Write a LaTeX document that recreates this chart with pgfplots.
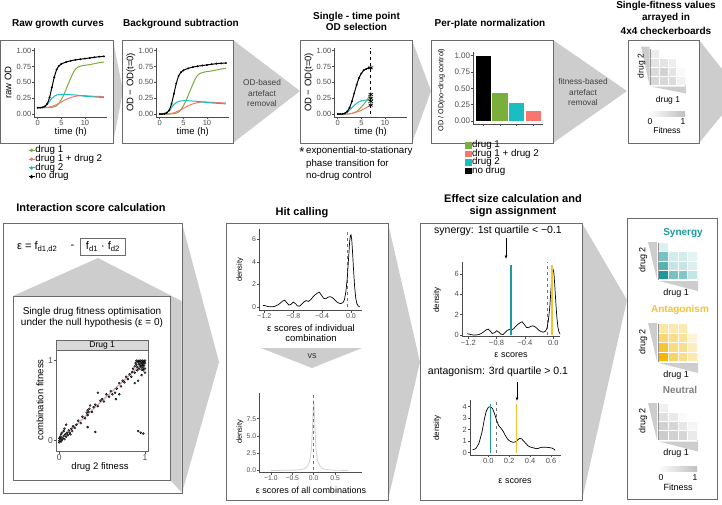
\documentclass[border=0pt]{standalone}
\usepackage{pgfplots}
\pgfplotsset{compat=1.18}
\usepackage{pgfplotstable}
\usepackage{fontspec}
\setmainfont{Liberation Sans}
\usetikzlibrary{arrows.meta}
\definecolor{cgreen}{HTML}{7CAE3C}
\definecolor{cred}{HTML}{F8766D}
\definecolor{ccyan}{HTML}{19BDC2}
\definecolor{cteal}{HTML}{1E9A9A}
\definecolor{cyell}{HTML}{F5C330}
\definecolor{cyelld}{HTML}{F5B700}
\definecolor{tri}{HTML}{CDCDCD}
\definecolor{boxc}{HTML}{6B6B6B}
\definecolor{tickc}{HTML}{4D4D4D}
\definecolor{regc}{HTML}{C7A2AB}
\newcommand{\fs}[1]{\fontsize{#1}{#1}\selectfont}
\newcommand{\lineimg}[1]{\draw[#1, line width=1pt] (0pt,0pt) -- (6pt,0pt); \fill[#1] (3pt,0pt) circle (1.2pt);}
\newcommand{\sqimg}[1]{\fill[#1] (0pt,-3.3pt) rectangle (6.6pt,3.3pt);}
\pgfplotsset{
  gg/.style={scale only axis, anchor=south west, axis x line*=bottom, axis y line*=left,
    tick align=outside, major tick length=2pt,
    every tick/.style={black!70, line width=0.5pt},
    axis line style={black!70, line width=0.5pt},
    tick label style={font=\fs{7.5}, text=tickc, inner sep=1pt}},
  growth/.style={gg, width=72.8pt, height=69.7pt, xmin=-0.7, xmax=14.7, ymin=-0.05, ymax=1.05,
    xtick={0,5,10}, xticklabels={0,5,10}, ytick={0,0.25,0.5,0.75,1},
    yticklabels={0.00,0.25,0.50,0.75,1.00}},
  ckax/.style={scale only axis, anchor=south west, xmin=0.5, xmax=4.5, ymin=0.5, ymax=4.5,
    axis x line*=bottom, axis y line*=left, axis line style={black!65, line width=0.9pt},
    xtick=\empty, ytick=\empty, point meta min=0, point meta max=1},
  ckcells/.style={matrix plot*, mesh/cols=4, mesh/check=false, point meta=explicit, shader=faceted, faceted color=white, line width=0.7pt},
}
% ---------------- data ----------------
\pgfplotstableread{
t od
0 0.10
0.5 0.10
1 0.105
1.5 0.12
2 0.16
2.5 0.26
3 0.42
3.5 0.58
4 0.70
4.5 0.76
5 0.79
6 0.82
7 0.84
8 0.855
9 0.865
10 0.875
11 0.885
12 0.895
13 0.905
14 0.91
}\rawK
\pgfplotstableread{
t od
0 0.10
1 0.10
2 0.10
3 0.105
4 0.13
4.5 0.17
5 0.23
5.5 0.30
6 0.39
6.5 0.48
7 0.57
7.5 0.65
8 0.71
8.5 0.74
9 0.755
10 0.77
11 0.78
12 0.795
13 0.81
14 0.82
}\rawG
\pgfplotstableread{
t od
0 0.10
1 0.105
1.5 0.12
2 0.15
2.5 0.20
3 0.25
3.5 0.28
4 0.30
5 0.31
6 0.31
7 0.305
8 0.30
9 0.29
10 0.28
11 0.275
12 0.27
13 0.265
14 0.26
}\rawC
\pgfplotstableread{
t od
0 0.10
1 0.10
2 0.105
3 0.12
4 0.15
5 0.19
6 0.23
7 0.26
8 0.28
9 0.29
10 0.29
11 0.285
12 0.28
13 0.278
14 0.275
}\rawR
\pgfplotstableread{
t od
0 0.0
0.5 0.0
1 0.005
1.5 0.02
2 0.06
2.5 0.16
3 0.32
3.5 0.48
4 0.60
4.5 0.66
5 0.69
6 0.72
7 0.74
8 0.755
9 0.765
10 0.775
11 0.785
12 0.795
13 0.80
14 0.805
}\bgK
\pgfplotstableread{
t od
0 0.0
1 0.0
2 0.0
3 0.005
4 0.03
4.5 0.07
5 0.13
5.5 0.20
6 0.29
6.5 0.38
7 0.47
7.5 0.55
8 0.61
8.5 0.64
9 0.655
10 0.67
11 0.68
12 0.695
13 0.71
14 0.72
}\bgG
\pgfplotstableread{
t od
0 0.0
1 0.005
1.5 0.02
2 0.05
2.5 0.10
3 0.15
3.5 0.18
4 0.20
5 0.21
6 0.21
7 0.205
8 0.20
9 0.19
10 0.18
11 0.175
12 0.17
13 0.165
14 0.16
}\bgC
\pgfplotstableread{
t od
0 0.0
1 0.0
2 0.005
3 0.02
4 0.05
5 0.09
6 0.13
7 0.16
8 0.18
9 0.19
10 0.19
11 0.185
12 0.18
13 0.178
14 0.175
}\bgR
\pgfplotstableread{
x y
-1.22 0.12
-1.19 0.10
-1.16 0.04
-1.13 0.0
-1.09 0.0
-1.05 0.05
-1.01 0.18
-0.98 0.32
-0.95 0.5
-0.92 0.58
-0.89 0.38
-0.86 0.15
-0.83 0.22
-0.80 0.42
-0.77 0.28
-0.74 0.08
-0.71 0.05
-0.68 0.25
-0.65 0.45
-0.62 0.55
-0.59 0.48
-0.56 0.62
-0.53 0.85
-0.50 1.05
-0.47 1.2
-0.44 1.3
-0.41 1.05
-0.38 0.75
-0.35 0.72
-0.32 0.85
-0.29 0.9
-0.26 0.82
-0.23 0.65
-0.20 0.45
-0.17 0.33
-0.14 0.28
-0.11 0.38
-0.09 0.65
-0.07 1.4
-0.05 2.7
-0.035 4.2
-0.02 5.7
-0.01 6.3
0.0 6.4
0.01 6.0
0.02 5.0
0.035 3.3
0.05 1.8
0.065 0.8
0.08 0.3
0.10 0.06
0.12 0.0
}\densA
\pgfplotstableread{
x y
-1.0 0.0
-0.5 0.03
-0.3 0.12
-0.2 0.3
-0.15 0.6
-0.1 1.2
-0.07 2.2
-0.05 3.5
-0.03 6.0
-0.015 8.5
0.0 10.2
0.015 8.5
0.03 6.0
0.05 3.5
0.07 2.2
0.1 1.2
0.15 0.6
0.2 0.3
0.3 0.12
0.5 0.03
0.8 0.0
}\densAll
\pgfplotstableread{
x y
-0.15 0.25
-0.12 0.35
-0.09 0.8
-0.06 1.8
-0.04 2.8
-0.02 3.6
0.0 3.95
0.02 4.0
0.04 3.85
0.06 3.4
0.08 2.8
0.10 2.35
0.12 2.15
0.14 1.9
0.16 1.55
0.18 1.25
0.20 1.05
0.22 0.95
0.24 0.9
0.26 0.95
0.28 1.1
0.30 1.25
0.32 1.2
0.34 1.0
0.36 0.8
0.38 0.6
0.40 0.5
0.42 0.45
0.44 0.4
0.46 0.35
0.48 0.38
0.50 0.45
0.52 0.48
0.55 0.48
0.58 0.45
0.61 0.4
0.63 0.3
0.64 0.2
}\densAnt
\pgfplotstableread{
x y
0.0 0.0
0.01 0.02
0.02 -0.01
0.0 0.03
0.03 0.01
0.01 0.05
0.04 0.03
0.02 0.08
0.05 0.06
0.06 0.02
0.03 0.1
0.07 0.08
0.08 0.05
0.05 0.12
0.09 0.1
0.1 0.07
0.11 0.13
0.12 0.1
0.14 0.15
0.0 -0.02
0.02 0.04
0.06 0.15
0.13 0.08
0.15 0.12
0.08 0.2
0.16 0.18
0.18 0.16
0.2 0.2
0.22 0.25
0.25 0.22
0.27 0.3
0.3 0.28
0.32 0.35
0.33 0.38
0.33 0.32
0.34 0.36
0.35 0.4
0.36 0.44
0.38 0.36
0.4 0.42
0.42 0.45
0.45 0.43
0.48 0.5
0.5 0.52
0.52 0.49
0.55 0.58
0.58 0.55
0.6 0.62
0.62 0.58
0.65 0.6
0.67 0.65
0.7 0.72
0.72 0.68
0.74 0.75
0.76 0.73
0.78 0.8
0.8 0.77
0.82 0.83
0.84 0.8
0.85 0.86
0.86 0.9
0.88 0.85
0.33 0.17
0.42 0.11
0.92 0.12
0.95 0.1
0.98 0.09
0.66 0.52
0.7 0.58
0.88 0.72
0.45 0.6
0.92 0.75
0.96 0.82
0.98 0.88
0.88 0.93
0.89 0.97
0.9 0.95
0.9 1.0
0.91 0.92
0.92 0.98
0.92 1.0
0.93 0.96
0.93 0.99
0.94 1.0
0.94 0.94
0.95 0.97
0.95 1.0
0.96 0.99
0.96 0.95
0.97 1.0
0.97 0.97
0.98 0.99
0.98 0.96
0.99 1.0
0.99 0.98
1.0 1.0
1.0 0.97
0.95 0.92
0.97 0.93
0.99 0.94
1.0 0.9
0.91 0.88
0.93 0.9
0.96 0.89
0.98 0.91
1.0 0.85
}\scat
\begin{document}
\begin{tikzpicture}[x=1pt,y=1pt]
\useasboundingbox (0,0) rectangle (722,-504);
% ---------- grey connectors ----------
\fill[tri] (113,-40) -- (123,-91) -- (113,-143) -- cycle;
\fill[tri] (233,-40) -- (300,-91) -- (233,-143) -- cycle;
\fill[tri] (412,-40) -- (431,-91) -- (412,-143) -- cycle;
\fill[tri] (553,-40) -- (627,-91) -- (553,-143) -- cycle;
\fill[tri] (699,-40) -- (722,-69) -- (722,-115) -- (699,-143) -- cycle;
\fill[tri] (182,-223) -- (219,-362) -- (182,-493) -- cycle;
\fill[tri] (388,-223) -- (420,-362) -- (388,-500) -- cycle;
\fill[tri] (582,-223) -- (627,-300) -- (582,-500) -- cycle;
% ---------- boxes ----------
\begin{scope}[draw=boxc, line width=0.9pt, fill=white]
\filldraw (0.5,-40) rectangle (113,-143);
\filldraw (122,-40) rectangle (233,-143);
\filldraw (300,-40) rectangle (412,-143);
\filldraw (431,-40) rectangle (553,-143);
\filldraw (628,-40) rectangle (699,-143);
\filldraw (3,-223) rectangle (182,-493);
\filldraw (226,-223) rectangle (388,-500);
\filldraw (420,-223) rectangle (582,-500);
\filldraw (627,-218) rectangle (717,-499);
\end{scope}
% cone inside left panel
\fill[tri] (98,-258) -- (13,-296) -- (170,-480) -- (181.5,-492) -- (181.5,-301) -- cycle;
\filldraw[draw=boxc, line width=0.9pt, fill=white] (13.5,-296) rectangle (170,-480.5);
\fill[tri] (261,-348) -- (362,-348) -- (312,-368) -- cycle;
% ---------- titles ----------
\begin{scope}[every node/.style={font=\bfseries\fs{10}, align=center}]
\node at (58,-24) {Raw growth curves};
\node at (181,-24) {Background subtraction};
\node at (356.5,-16.5) {Single - time point};
\node at (356.5,-27) {OD selection};
\node at (490,-24) {Per-plate normalization};
\node at (666,-5.5) {Single-fitness values};
\node at (666,-17.5) {arrayed in};
\node at (666,-30.5) {4x4 checkerboards};
\end{scope}
\begin{scope}[every node/.style={font=\bfseries\fs{11}}]
\node at (91,-208) {Interaction score calculation};
\node at (302,-212.5) {Hit calling};
\node at (513,-199) {Effect size calculation and};
\node at (513,-211.5) {sign assignment};
\end{scope}
% connector texts
\begin{scope}[every node/.style={font=\fs{8.3}, text=black!75}]
\node at (262,-83) {OD-based};
\node at (262,-93.5) {artefact};
\node at (262,-104) {removal};
\node at (583,-82) {fitness-based};
\node at (583,-92.5) {artefact};
\node at (583,-102.5) {removal};
\end{scope}
% ---------- panel 1 ----------
\begin{axis}[growth, at={(34.4pt,-117.2pt)},
  legend style={at={(axis description cs:-0.09,-0.41)}, anchor=north west, draw=none, fill=none,
    inner sep=0pt, row sep=0pt, font=\fs{9.8},
    nodes={inner sep=0.4pt, text height=6.1pt, text depth=1.9pt}},
  legend cell align=left]
\addplot[cgreen, line width=1pt, smooth, legend image code/.code={\lineimg{cgreen}}] table[x=t,y=od] {\rawG};
\addlegendentry{drug 1}
\addplot[cred, line width=1pt, smooth, legend image code/.code={\lineimg{cred}}] table[x=t,y=od] {\rawR};
\addlegendentry{drug 1 + drug 2}
\addplot[ccyan, line width=1pt, smooth, legend image code/.code={\lineimg{ccyan}}] table[x=t,y=od] {\rawC};
\addlegendentry{drug 2}
\addplot[black, line width=1pt, smooth, mark=*, mark size=0.4pt, legend image code/.code={\lineimg{black}}] table[x=t,y=od] {\rawK};
\addlegendentry{no drug}
\end{axis}
\node[rotate=90, font=\fs{9.5}] at (8,-82.4) {raw OD};
\node[font=\fs{9.5}] at (70.8,-132) {time (h)};
% ---------- panel 2 ----------
\begin{axis}[growth, at={(156.4pt,-117.2pt)}]
\addplot[cgreen, line width=1pt, smooth] table[x=t,y=od] {\bgG};
\addplot[cred, line width=1pt, smooth] table[x=t,y=od] {\bgR};
\addplot[ccyan, line width=1pt, smooth] table[x=t,y=od] {\bgC};
\addplot[black, line width=1pt, smooth, mark=*, mark size=0.4pt] table[x=t,y=od] {\bgK};
\end{axis}
\node[rotate=90, font=\fs{9.5}] at (131,-82.4) {OD − OD(t=0)};
\node[font=\fs{9.5}] at (192.8,-132) {time (h)};
% ---------- panel 3 ----------
\begin{axis}[growth, at={(334.4pt,-117.2pt)}]
\addplot[cgreen, line width=1pt, smooth] coordinates {(0,0) (2,0) (3,0.01) (4,0.04) (5,0.11) (6,0.2) (6.5,0.26) (7,0.31)};
\addplot[cred, line width=1pt, smooth] coordinates {(0,0) (2,0) (3,0.01) (4,0.03) (5,0.06) (6,0.1) (7,0.14)};
\addplot[ccyan, line width=1pt, smooth] coordinates {(0,0) (1,0.005) (2,0.03) (3,0.1) (4,0.17) (5,0.21) (6,0.22) (7,0.22)};
\addplot[black, line width=1pt, smooth, mark=*, mark size=0.4pt] coordinates {(0,0) (0.5,0) (1,0) (1.5,0.01) (2,0.04) (2.5,0.1) (3,0.2) (3.5,0.33) (4,0.46) (4.5,0.57) (5,0.64) (5.5,0.69) (6,0.71) (6.5,0.725) (7,0.73)};
\addplot[ycomb, black, dashed, line width=0.7pt] coordinates {(7,1.05)};
\addplot[only marks, mark=asterisk, mark size=2.6pt, black, mark options={line width=0.6pt, solid}] coordinates {(7,0.73) (7,0.31) (7,0.25) (7,0.2) (7,0.14)};
\end{axis}
\node[rotate=90, font=\fs{9.5}] at (309,-82.4) {OD − OD(t=0)};
\node[font=\fs{9.5}] at (370.8,-132) {time (h)};
\node[font=\fs{13}] at (302,-152.5) {*};
\begin{scope}[every node/.style={font=\fs{9.7}, anchor=west, inner sep=0pt}]
\node at (306,-150.7) {exponential-to-stationary};
\node at (306,-163.5) {phase transition for};
\node at (306,-176) {no-drug control};
\end{scope}
% ---------- panel 4 ----------
\begin{axis}[gg, at={(473.3pt,-124.3pt)}, width=70pt, height=71.9pt, xmin=0.4, xmax=4.6, ymin=-0.05, ymax=1.05,
  xtick={1,2,3,4}, xticklabels={}, ytick={0,0.25,0.5,0.75,1}, yticklabels={0.00,0.25,0.50,0.75,1.00},
  tick label style={font=\fs{8}},
  legend style={at={(axis description cs:-0.12,-0.23)}, anchor=north west, draw=none, fill=none,
    inner sep=0pt, row sep=0pt, font=\fs{9.8},
    nodes={inner sep=0.4pt, text height=6pt, text depth=1.8pt}},
  legend cell align=left]
\addplot[ybar, bar width=15.5pt, bar shift=0pt, fill=cgreen, draw=none, legend image code/.code={\sqimg{cgreen}}] coordinates {(2,0.43)};
\addlegendentry{drug 1}
\addplot[ybar, bar width=15.5pt, bar shift=0pt, fill=cred, draw=none, legend image code/.code={\sqimg{cred}}] coordinates {(4,0.16)};
\addlegendentry{drug 1 + drug 2}
\addplot[ybar, bar width=15.5pt, bar shift=0pt, fill=ccyan, draw=none, legend image code/.code={\sqimg{ccyan}}] coordinates {(3,0.28)};
\addlegendentry{drug 2}
\addplot[ybar, bar width=15.5pt, bar shift=0pt, fill=black, draw=none, legend image code/.code={\sqimg{black}}] coordinates {(1,1.0)};
\addlegendentry{no drug}
\end{axis}
\node[rotate=90, font=\fs{7.2}] at (441.5,-90) {OD / OD(no−drug control)};
% ---------- panel 5 ----------
\fill[tri] (641,-46.5) -- (649.5,-46.5) -- (649.5,-85) -- cycle;
\fill[tri] (651,-86.5) -- (686,-86.5) -- (686,-93.5) -- cycle;
\begin{axis}[ckax, at={(650.5pt,-85pt)}, width=35pt, height=36pt, colormap={cg}{color=(white) color=(black!35)}]
\addplot[ckcells] table[meta=c] {
x y c
1 1 0.45
2 1 0.45
3 1 0.4
4 1 0.15
1 2 0.4
2 2 0.5
3 2 0.3
4 2 0.05
1 3 0.3
2 3 0.3
3 3 0.2
4 3 0
1 4 0.2
2 4 0
3 4 0
4 4 0
};
\end{axis}
\node[rotate=90, font=\fs{8.5}] at (641.5,-66) {drug 2};
\node[font=\fs{8.5}] at (668,-100) {drug 1};
\shade[left color=white, right color=black!25] (648,-111) rectangle (685,-116);
\node[font=\fs{8.5}] at (650,-121.5) {0};
\node[font=\fs{8.5}] at (683,-121.5) {1};
\node[font=\fs{8.5}] at (667,-130.5) {Fitness};
% ---------- panel 6: interaction score ----------
\node[font=\fs{11}, anchor=west, inner sep=0pt] at (17,-247) {ε = f\textsubscript{d1,d2}};
\node[font=\fs{11}] at (72.5,-247) {-};
\node[draw=boxc, line width=0.8pt, fill=white, minimum width=45pt, minimum height=17pt, inner sep=0pt, font=\fs{11}] at (103,-246.5) {f\textsubscript{d1} · f\textsubscript{d2}};
\node[font=\fs{10}] at (92,-311.7) {Single drug fitness optimisation};
\node[font=\fs{10}] at (92,-323.3) {under the null hypothesis (ε = 0)};
\filldraw[fill=black!15, draw=black!60, line width=0.6pt] (56,-340) rectangle (148.3,-350.7);
\node[font=\fs{8.5}] at (102.2,-345.3) {Drug 1};
\begin{axis}[scale only axis, anchor=south west, at={(56pt,-451.7pt)}, width=92.3pt, height=101pt,
  xmin=-0.039, xmax=1.0385, ymin=-0.1375, ymax=1.125, xtick={0,1}, ytick={0,1},
  tick align=outside, major tick length=2pt, xtick pos=bottom, ytick pos=left,
  axis line style={black!60, line width=0.6pt}, every tick/.style={black!70, line width=0.5pt},
  tick label style={font=\fs{8.5}, text=tickc, inner sep=1pt}, xticklabels={0,1}, yticklabels={0,1}]
\addplot[only marks, mark=*, mark size=1pt, mark options={draw=none, fill=black!55, fill opacity=0.85}] table[x=x,y=y] {\scat};
\addplot[regc, line width=1.4pt, opacity=0.85] coordinates {(0,0) (1,1)};
\end{axis}
\node[rotate=90, font=\fs{9.5}] at (40,-400) {combination fitness};
\node[font=\fs{9.5}] at (100,-467) {drug 2 fitness};
% ---------- panel 7: hit calling ----------
\begin{axis}[gg, at={(259.3pt,-310.7pt)}, width=102.4pt, height=81.4pt, xmin=-1.27, xmax=0.148, ymin=-0.35, ymax=6.9,
  xtick={-1.2,-0.8,-0.4,0}, xticklabels={−1.2,−0.8,−0.4,0.0}, ytick={0,2,4,6}, yticklabels={0,2,4,6},
  tick label style={font=\fs{7}}]
\addplot[ycomb, black!55, dashed, line width=0.8pt] coordinates {(-0.045,6.9)};
\addplot[black, line width=0.7pt] table[x=x,y=y] {\densA};
\end{axis}
\node[rotate=90, font=\fs{7.5}] at (240,-270) {density};
\node[font=\fs{9.5}] at (311,-327.7) {ε scores of individual};
\node[font=\fs{9.5}] at (311,-338.2) {combination};
\node[font=\fs{9}, text=black!80] at (312,-356.5) {vs};
\begin{axis}[gg, at={(259.3pt,-472.5pt)}, width=102.4pt, height=80pt, xmin=-1.27, xmax=1.12, ymin=-0.3, ymax=11.3,
  xtick={-1,-0.5,0,0.5}, xticklabels={−1.0,−0.5,0.0,0.5}, ytick={0,2.5,5,7.5}, yticklabels={0.0,2.5,5.0,7.5},
  tick label style={font=\fs{6.8}}]
\addplot[black!18, line width=0.8pt] table[x=x,y=y] {\densAll};
\addplot[ycomb, black!55, dashed, line width=0.8pt] coordinates {(0,11.3)};
\end{axis}
\node[rotate=90, font=\fs{7.5}] at (240,-432) {density};
\node[font=\fs{9}] at (311,-490.5) {ε scores of all combinations};
% ---------- panel 8: effect size ----------
\node[font=\fs{10.5}] at (498,-231) {synergy: 1st quartile < −0.1};
\draw[-{Latex[length=3.5pt,width=3pt]}, line width=0.7pt] (506,-238) -- (506,-259);
\begin{axis}[gg, at={(462pt,-336.7pt)}, width=98pt, height=74.7pt, xmin=-1.289, xmax=0.095, ymin=-0.167, ymax=7.18,
  xtick={-1.2,-0.8,-0.4,0}, xticklabels={−1.2,−0.8,−0.4,0.0}, ytick={0,2,4,6}, yticklabels={0,2,4,6},
  tick label style={font=\fs{7.5}}]
\addplot[ycomb, black!55, dashed, line width=0.8pt] coordinates {(-0.09,7.18)};
\addplot[black, line width=0.7pt] table[x=x,y=y] {\densA};
\addplot[ycomb, cteal, line width=1.6pt] coordinates {(-0.6,6.9)};
\addplot[ycomb, cyell, line width=1.6pt] coordinates {(-0.015,6.9)};
\end{axis}
\node[rotate=90, font=\fs{8}] at (437,-300) {density};
\node[font=\fs{9}] at (511,-355) {ε scores};
\node[font=\fs{10.5}] at (498,-372) {antagonism: 3rd quartile > 0.1};
\draw[-{Latex[length=3.5pt,width=3pt]}, line width=0.7pt] (517,-382) -- (517,-401);
\begin{axis}[gg, at={(470pt,-455pt)}, width=91pt, height=55.2pt, xmin=-0.175, xmax=0.696, ymin=-0.2, ymax=4.6,
  xtick={0,0.2,0.4,0.6}, xticklabels={0.0,0.2,0.4,0.6}, ytick={0,1,2,3,4}, yticklabels={0,1,2,3,4},
  tick label style={font=\fs{7.5}}]
\addplot[ycomb, black!55, dashed, line width=0.8pt] coordinates {(0.08,4.6)};
\addplot[black, line width=0.7pt] table[x=x,y=y] {\densAnt};
\addplot[ycomb, cteal, line width=1.6pt] coordinates {(0.02,4.2)};
\addplot[ycomb, cyell, line width=1.6pt] coordinates {(0.27,4.2)};
\end{axis}
\node[rotate=90, font=\fs{8}] at (437,-428) {density};
\node[font=\fs{9}] at (515,-481) {ε scores};
% ---------- panel 9: checkerboards ----------
\node[font=\bfseries\fs{10}, text=cteal] at (683,-233) {Synergy};
\fill[tri] (648,-242) -- (657,-242) -- (657,-279.5) -- cycle;
\fill[tri] (659,-281) -- (698,-281) -- (698,-291) -- cycle;
\begin{axis}[ckax, at={(658.5pt,-279.5pt)}, width=39pt, height=37pt, colormap={ct}{color=(white) color=(cteal)}]
\addplot[ckcells] table[meta=c] {
x y c
1 1 1.0
2 1 0.6
3 1 0.55
4 1 0.25
1 2 0.75
2 2 0.25
3 2 0.25
4 2 0.15
1 3 0.6
2 3 0.2
3 3 0.2
4 3 0.12
1 4 0.15
2 4 0
3 4 0
4 4 0
};
\end{axis}
\node[rotate=90, font=\fs{9}] at (643,-260) {drug 2};
\node[font=\fs{9}] at (676,-293.5) {drug 1};
\node[font=\bfseries\fs{10}, text=cyell] at (680,-310) {Antagonism};
\fill[tri] (648,-323) -- (657,-323) -- (657,-361.5) -- cycle;
\fill[tri] (659,-363) -- (698,-363) -- (698,-373) -- cycle;
\begin{axis}[ckax, at={(658.5pt,-361.5pt)}, width=39pt, height=38pt, colormap={cy}{color=(white) color=(cyelld)}]
\addplot[ckcells] table[meta=c] {
x y c
1 1 1.0
2 1 0.6
3 1 0.45
4 1 0.3
1 2 0.8
2 2 0.5
3 2 0.45
4 2 0.25
1 3 0.55
2 3 0.45
3 3 0.4
4 3 0.15
1 4 0.35
2 4 0.3
3 4 0.3
4 4 0
};
\end{axis}
\node[rotate=90, font=\fs{9}] at (643,-342) {drug 2};
\node[font=\fs{9}] at (676,-375.5) {drug 1};
\node[font=\bfseries\fs{10}, text=black!50] at (680,-390) {Neutral};
\fill[tri] (648,-403) -- (657,-403) -- (657,-440) -- cycle;
\fill[tri] (659,-441.5) -- (698,-441.5) -- (698,-451.5) -- cycle;
\begin{axis}[ckax, at={(658.5pt,-440pt)}, width=39pt, height=37pt, colormap={cg2}{color=(white) color=(black!40)}]
\addplot[ckcells] table[meta=c] {
x y c
1 1 0.5
2 1 0.45
3 1 0.4
4 1 0.2
1 2 0.45
2 2 0.4
3 2 0.25
4 2 0.1
1 3 0.3
2 3 0.2
3 3 0.05
4 3 0
1 4 0.15
2 4 0
3 4 0
4 4 0
};
\end{axis}
\node[rotate=90, font=\fs{9}] at (643,-421) {drug 2};
\node[font=\fs{9}] at (676,-453.5) {drug 1};
\shade[left color=white, right color=black!25] (658,-466) rectangle (697,-471);
\node[font=\fs{8.5}] at (661,-477.5) {0};
\node[font=\fs{8.5}] at (695,-477.5) {1};
\node[font=\fs{9}] at (678,-487) {Fitness};
\end{tikzpicture}
\end{document}
